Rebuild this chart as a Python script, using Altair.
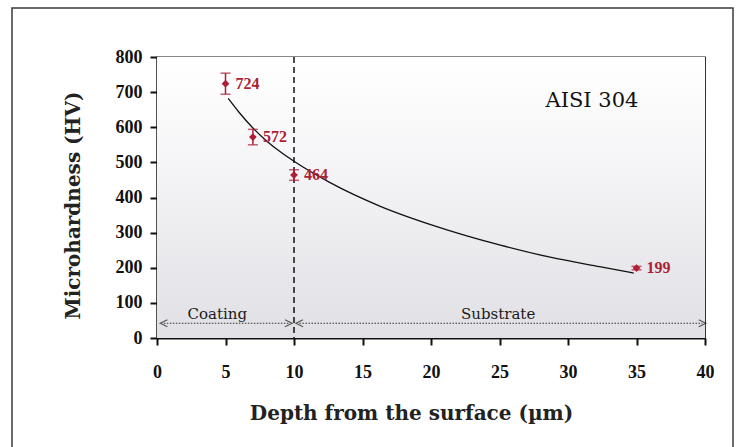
import altair as alt
import pandas as pd

# measured points
depth = [5, 7, 10, 35]
hardness = [724, 572, 464, 199]
err = [30, 22, 15, 5]
labels = ["724", "572", "464", "199"]

# fitted trend line
fit_depth = [5.2, 6.0, 7.0, 8.0, 9.0, 10.0, 12.6, 16.3, 20.2, 25.0, 28.7, 32.3, 34.8]
fit_hv = [682, 642, 598, 561, 530, 503, 443, 375, 320, 265, 230, 203, 185]

x_ticks = [0, 5, 10, 15, 20, 25, 30, 35, 40]
y_ticks = [0, 100, 200, 300, 400, 500, 600, 700, 800]

boundary = [10]
zones = ["Coating", "Substrate"]
zone_start = [0.5, 10.4]
zone_end = [9.6, 39.8]
zone_mid = [4.4, 24.9]
zone_y = 42

material = ["AISI 304"]
material_x = [31.75]
material_y = [675]

RED = "#ad1f35"
W, H = 548, 281

pts = pd.DataFrame({"depth": depth, "hv": hardness, "lo": [h - e for h, e in zip(hardness, err)],
                    "hi": [h + e for h, e in zip(hardness, err)], "label": labels})
fit = pd.DataFrame({"depth": fit_depth, "hv": fit_hv})
zdf = pd.DataFrame({"zone": zones, "start": zone_start, "end": zone_end, "mid": zone_mid,
                    "y": [zone_y] * 2})
one = pd.DataFrame({"a": [0]})

xs = alt.Scale(domain=[0, 40], nice=False)
ys = alt.Scale(domain=[0, 800], nice=False)
xax = alt.Axis(values=x_ticks, title="Depth from the surface (\u00b5m)", grid=False,
               labelOverlap=False, labelFlush=False, tickCount=9,
               titleX=254, titleY=75, titleBaseline="middle", labelPadding=18)
yax = alt.Axis(values=y_ticks, title="Microhardness (HV)", grid=False,
               labelOverlap=False, labelFlush=False, tickCount=9,
               titleX=-84, titleY=148, titleBaseline="middle", labelPadding=8)


def X(f):
    return alt.X(f, scale=xs, axis=xax)


def Y(f):
    return alt.Y(f, scale=ys, axis=yax)


bg = alt.Chart(one).mark_rect(
    fill=alt.Gradient(gradient="linear",
                      stops=[alt.GradientStop(color="#ffffff", offset=0),
                             alt.GradientStop(color="#f6f6f8", offset=0.35),
                             alt.GradientStop(color="#e0e0e5", offset=1)],
                      x1=0, x2=0, y1=0, y2=1)
).encode(x=alt.value(0), x2=alt.value(W), y=alt.value(0), y2=alt.value(H))

frame = alt.Chart(one).mark_rect(fillOpacity=0, stroke="#3a3a3a", strokeWidth=1.5).encode(
    x=alt.value(-145), x2=alt.value(576), y=alt.value(-49), y2=alt.value(420))

curve = alt.Chart(fit).mark_line(color="#111111", strokeWidth=1.3, interpolate="monotone").encode(
    x=X("depth:Q"), y=Y("hv:Q"))

vline = alt.Chart(pd.DataFrame({"x": boundary})).mark_rule(
    color="#111111", strokeWidth=1.5, strokeDash=[6, 4]).encode(x=X("x:Q"))

zline = alt.Chart(zdf).mark_rule(color="#333333", strokeWidth=1.2, strokeDash=[1.5, 1.5]).encode(
    x=X("start:Q"), x2="end:Q", y=Y("y:Q"))
lhead = alt.Chart(zdf).mark_point(shape="M 1 -1 L -1 0 L 1 1", filled=False, color="#222222",
                                  strokeWidth=1.3, size=50).encode(x=X("start:Q"), y=Y("y:Q"))
rhead = alt.Chart(zdf).mark_point(shape="M -1 -1 L 1 0 L -1 1", filled=False, color="#222222",
                                  strokeWidth=1.3, size=50).encode(x=X("end:Q"), y=Y("y:Q"))
ztext = alt.Chart(zdf).mark_text(font="DejaVu Serif", fontSize=15, color="#1a1a1a",
                                 baseline="alphabetic", dy=-4).encode(
    x=X("mid:Q"), y=Y("y:Q"), text="zone:N")

ebar = alt.Chart(pts).mark_rule(color=RED, strokeWidth=1.5).encode(
    x=X("depth:Q"), y=Y("lo:Q"), y2="hi:Q")
cap_lo = alt.Chart(pts).mark_tick(color=RED, orient="horizontal", size=10, thickness=1.5).encode(
    x=X("depth:Q"), y=Y("lo:Q"))
cap_hi = alt.Chart(pts).mark_tick(color=RED, orient="horizontal", size=10, thickness=1.5).encode(
    x=X("depth:Q"), y=Y("hi:Q"))
marks = alt.Chart(pts).mark_point(shape="diamond", filled=True, color=RED, size=60, opacity=1).encode(
    x=X("depth:Q"), y=Y("hv:Q"))
vals = alt.Chart(pts).mark_text(font="Liberation Serif", fontWeight="bold", fontSize=16, color=RED,
                                align="left", baseline="middle", dx=10).encode(
    x=X("depth:Q"), y=Y("hv:Q"), text="label:N")

mat = alt.Chart(pd.DataFrame({"t": material, "x": material_x, "y": material_y})).mark_text(
    font="DejaVu Serif", fontSize=21, color="#111111", align="center", baseline="middle").encode(
    x=X("x:Q"), y=Y("y:Q"), text="t:N")

chart = alt.layer(bg, frame, curve, vline, zline, lhead, rhead, ztext, ebar, cap_lo, cap_hi,
                  marks, vals, mat).properties(
    width=W, height=H,
    padding={"left": 157, "top": 57, "right": 31, "bottom": 109},
    autosize=alt.AutoSizeParams(type="none"),
    background="white",
).configure_view(stroke="#111111", strokeWidth=1.3).configure_axis(
    domainColor="#111111", domainWidth=2, tickColor="#111111", tickWidth=2, tickSize=7,
    labelFont="Liberation Serif", labelFontWeight="bold", labelFontSize=18, labelColor="#111111",
    titleFont="DejaVu Serif", titleFontWeight="bold", titleFontSize=20, titleColor="#222222",
)

chart.save("out.html", embed_options={"renderer": "svg", "actions": False})
